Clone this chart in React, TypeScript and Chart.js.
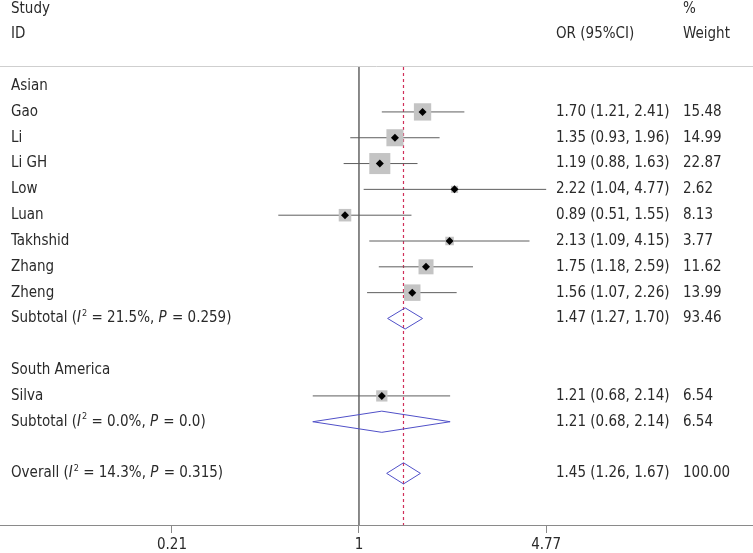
import React, { useEffect, useRef } from "react";
import { Chart, registerables } from "chart.js";

Chart.register(...registerables);

// ---------- data ----------
const groupNames = ["Asian", "South America"];
const groupRows = [0, 11];

const studyNames = ["Gao", "Li", "Li GH", "Low", "Luan", "Takhshid", "Zhang", "Zheng", "Silva"];
const studyRows = [1, 2, 3, 4, 5, 6, 7, 8, 12];
const orValues = [1.7, 1.35, 1.19, 2.22, 0.89, 2.13, 1.75, 1.56, 1.21];
const ciLower = [1.21, 0.93, 0.88, 1.04, 0.51, 1.09, 1.18, 1.07, 0.68];
const ciUpper = [2.41, 1.96, 1.63, 4.77, 1.55, 4.15, 2.59, 2.26, 2.14];
const weights = [15.48, 14.99, 22.87, 2.62, 8.13, 3.77, 11.62, 13.99, 6.54];

const summaryPrefix = ["Subtotal", "Subtotal", "Overall"];
const summaryI2 = ["21.5%", "0.0%", "14.3%"];
const summaryP = ["0.259", "0.0", "0.315"];
const summaryRows = [9, 13, 15];
const summaryOR = [1.47, 1.21, 1.45];
const summaryLower = [1.27, 0.68, 1.26];
const summaryUpper = [1.7, 2.14, 1.67];
const summaryWeight = [93.46, 6.54, 100.0];

const tickValues = [0.21, 1, 4.77];
const tickLabels = ["0.21", "1", "4.77"];

const headerLeft = ["Study", "ID"];
const headerOR = "OR (95%CI)";
const headerWeight = ["%", "Weight"];

const FONT = '"DejaVu Sans Condensed", "DejaVu Sans", sans-serif';
const TEXT_COLOR = "#2a2a2a";

const fmt2 = (v: number) => v.toFixed(2);

export default function App() {
  const ref = useRef<HTMLCanvasElement>(null);

  useEffect(() => {
    document.body.style.margin = "0";
    const canvas = ref.current!;
    const datasets: any[] = [];

    // black diamond markers at the point estimates
    datasets.push({
      type: "scatter",
      data: studyRows.map((r, i) => ({ x: orValues[i], y: r })),
      pointStyle: "rectRot",
      pointRadius: 4,
      pointHoverRadius: 4,
      backgroundColor: "#000",
      borderColor: "#000",
      borderWidth: 0,
    });
    // weight squares
    datasets.push({
      type: "scatter",
      data: studyRows.map((r, i) => ({ x: orValues[i], y: r })),
      pointStyle: "rect",
      pointRadius: weights.map((w) => (4.4 * Math.sqrt(w)) / Math.SQRT2),
      pointHoverRadius: weights.map((w) => (4.4 * Math.sqrt(w)) / Math.SQRT2),
      backgroundColor: "#c4c4c4",
      borderColor: "#c4c4c4",
      borderWidth: 0,
    });
    // confidence intervals
    studyRows.forEach((r, i) => {
      datasets.push({
        type: "line",
        data: [
          { x: ciLower[i], y: r },
          { x: ciUpper[i], y: r },
        ],
        borderColor: "#5e5e5e",
        borderWidth: 1,
        pointRadius: 0,
        pointHoverRadius: 0,
      });
    });
    // summary diamonds
    summaryRows.forEach((r, i) => {
      const h = 0.41;
      datasets.push({
        type: "line",
        data: [
          { x: summaryLower[i], y: r },
          { x: summaryOR[i], y: r - h },
          { x: summaryUpper[i], y: r },
          { x: summaryOR[i], y: r + h },
          { x: summaryLower[i], y: r },
        ],
        borderColor: "#5050c8",
        borderWidth: 1,
        pointRadius: 0,
        pointHoverRadius: 0,
        fill: false,
        tension: 0,
      });
    });
    // overall effect dashed line
    datasets.push({
      type: "line",
      data: [
        { x: summaryOR[2], y: -0.74 },
        { x: summaryOR[2], y: 17 },
      ],
      borderColor: "#d0305a",
      borderDash: [3, 3],
      borderWidth: 1.2,
      pointRadius: 0,
      pointHoverRadius: 0,
    });
    // null line
    datasets.push({
      type: "line",
      data: [
        { x: 1, y: -0.74 },
        { x: 1, y: 17 },
      ],
      borderColor: "#7a7a7a",
      borderWidth: 1,
      pointRadius: 0,
      pointHoverRadius: 0,
    });

    const drawRich = (
      ctx: CanvasRenderingContext2D,
      x: number,
      y: number,
      segs: { t: string; it?: boolean; sup?: boolean }[]
    ) => {
      let cx = x;
      for (const s of segs) {
        if (s.sup) {
          ctx.font = `9px ${FONT}`;
          ctx.fillText(s.t, cx, y - 5);
        } else {
          ctx.font = `${s.it ? "italic " : ""}15px ${FONT}`;
          ctx.fillText(s.t, cx, y);
        }
        cx += ctx.measureText(s.t).width + (s.it ? 1 : 0);
      }
    };

    const textPlugin = {
      id: "forestText",
      afterDraw(chart: any) {
        const ctx: CanvasRenderingContext2D = chart.ctx;
        const ys = chart.scales.y;
        const area = chart.chartArea;
        ctx.save();
        // top rule
        ctx.strokeStyle = "#cfcfcf";
        ctx.lineWidth = 1;
        ctx.beginPath();
        ctx.moveTo(0, Math.round(area.top) - 0.5);
        ctx.lineTo(chart.width, Math.round(area.top) - 0.5);
        ctx.stroke();

        ctx.fillStyle = TEXT_COLOR;
        ctx.textBaseline = "middle";
        ctx.textAlign = "left";
        ctx.font = `15px ${FONT}`;
        const xLabel = 11;
        const xOR = 556;
        const xW = 683;
        // headers
        ctx.fillText(headerLeft[0], xLabel, ys.getPixelForValue(-3));
        ctx.fillText(headerLeft[1], xLabel, ys.getPixelForValue(-2));
        ctx.fillText(headerOR, xOR, ys.getPixelForValue(-2));
        ctx.fillText(headerWeight[0], xW, ys.getPixelForValue(-3));
        ctx.fillText(headerWeight[1], xW, ys.getPixelForValue(-2));
        // groups
        groupNames.forEach((g, i) => {
          ctx.font = `15px ${FONT}`;
          ctx.fillText(g, xLabel, ys.getPixelForValue(groupRows[i]));
        });
        // studies
        studyNames.forEach((n, i) => {
          const y = ys.getPixelForValue(studyRows[i]);
          ctx.font = `15px ${FONT}`;
          ctx.fillText(n, xLabel, y);
          ctx.fillText(`${fmt2(orValues[i])} (${fmt2(ciLower[i])}, ${fmt2(ciUpper[i])})`, xOR, y);
          ctx.fillText(fmt2(weights[i]), xW, y);
        });
        // summaries
        summaryRows.forEach((r, i) => {
          const y = ys.getPixelForValue(r);
          drawRich(ctx, xLabel, y, [
            { t: `${summaryPrefix[i]} (` },
            { t: "I", it: true },
            { t: "2", sup: true },
            { t: ` = ${summaryI2[i]}, ` },
            { t: "P", it: true },
            { t: ` = ${summaryP[i]})` },
          ]);
          ctx.font = `15px ${FONT}`;
          ctx.fillText(`${fmt2(summaryOR[i])} (${fmt2(summaryLower[i])}, ${fmt2(summaryUpper[i])})`, xOR, y);
          ctx.fillText(fmt2(summaryWeight[i]), xW, y);
        });
        ctx.restore();
      },
    };

    const chart = new Chart(canvas, {
      type: "scatter",
      data: { datasets },
      plugins: [textPlugin],
      options: {
        animation: false,
        responsive: false,
        events: [],
        layout: { autoPadding: false, padding: { top: 67, left: 0, right: 0, bottom: 0 } },
        plugins: { legend: { display: false }, tooltip: { enabled: false } },
        scales: {
          x: {
            type: "logarithmic",
            min: 0.05,
            max: 26.8,
            afterBuildTicks: (scale: any) => {
              scale.ticks = tickValues.map((v) => ({ value: v }));
            },
            afterFit: (scale: any) => {
              scale.height = 28;
              scale.paddingLeft = 0;
              scale.paddingRight = 0;
            },
            ticks: {
              autoSkip: false,
              maxRotation: 0,
              padding: 3,
              color: TEXT_COLOR,
              font: { family: FONT, size: 15 },
              callback: (value: any) => {
                const idx = tickValues.indexOf(Number(value));
                return idx >= 0 ? tickLabels[idx] : "";
              },
            },
            grid: {
              display: true,
              drawOnChartArea: false,
              drawTicks: true,
              tickLength: 8,
              color: "#8a8a8a",
            },
            border: { display: true, color: "#8a8a8a", width: 1 },
          },
          y: {
            type: "linear",
            reverse: true,
            min: -0.74,
            max: 17,
            display: false,
          },
        },
      },
    });
    return () => chart.destroy();
  }, []);

  return <canvas ref={ref} width={753} height={553} style={{ display: "block" }} />;
}
